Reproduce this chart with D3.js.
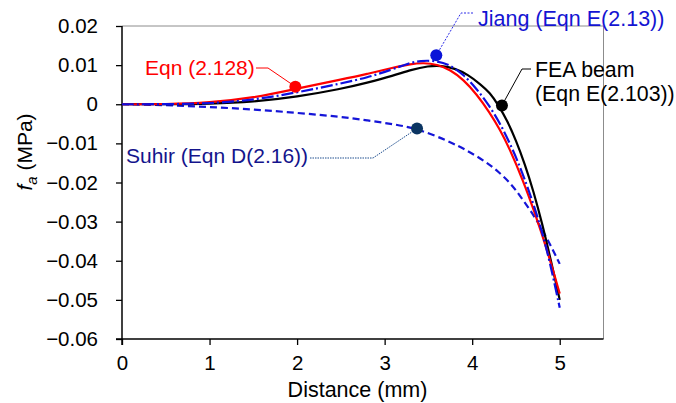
<!DOCTYPE html>
<html><head><meta charset="utf-8">
<script src="https://cdn.jsdelivr.net/npm/d3@7"></script>
<style>
body{margin:0;background:#fff;}
text{font-family:"Liberation Sans",Arial,sans-serif;}
</style></head>
<body><svg id="chart" width="676" height="403"></svg>
<script>
// ---- data ----
const xTicks = [0, 1, 2, 3, 4, 5];
const yTicks = [0.02, 0.01, 0, -0.01, -0.02, -0.03, -0.04, -0.05, -0.06];

const feaX = [0, 0.5, 1.0, 1.5, 2.0, 2.5, 2.8, 3.1, 3.3, 3.5, 3.65, 3.8, 3.95, 4.1, 4.2, 4.3, 4.4, 4.5, 4.6, 4.7, 4.8, 4.9, 5.0];
const feaY = [0, 0, 0.0001, 0.0006, 0.0019, 0.0039, 0.0055, 0.0073, 0.0088, 0.0098, 0.0099, 0.0092, 0.0076, 0.0050, 0.0030, -0.0002, -0.0042, -0.0092, -0.0152, -0.0222, -0.0305, -0.0400, -0.0500];

const eqnX = [0, 0.5, 1.0, 1.5, 2.0, 2.5, 2.8, 3.1, 3.3, 3.44, 3.6, 3.75, 3.9, 4.05, 4.2, 4.32, 4.42, 4.58, 4.72, 4.86, 5.0];
const eqnY = [0, 0, 0.0004, 0.0016, 0.0040, 0.0063, 0.0077, 0.0094, 0.0103, 0.0106, 0.0102, 0.0088, 0.0063, 0.0026, -0.0021, -0.0066, -0.0110, -0.0194, -0.0280, -0.0375, -0.0484];

const jiangX = [0, 0.5, 1.0, 1.5, 2.0, 2.5, 2.8, 3.1, 3.25, 3.41, 3.6, 3.75, 3.9, 4.05, 4.2, 4.32, 4.42, 4.52, 4.64, 4.78, 4.89, 5.0];
const jiangY = [0, 0, 0.0002, 0.0011, 0.0030, 0.0053, 0.0068, 0.0090, 0.0103, 0.0112, 0.0111, 0.0100, 0.0076, 0.0040, -0.0005, -0.0050, -0.0095, -0.0145, -0.0215, -0.0310, -0.0405, -0.0520];

const suhirX = [0, 0.5, 1.0, 1.5, 2.0, 2.5, 2.8, 3.1, 3.37, 3.73, 3.94, 4.15, 4.3, 4.45, 4.55, 4.7, 4.85, 5.0];
const suhirY = [0, -0.0002, -0.0007, -0.0013, -0.0022, -0.0032, -0.0041, -0.0051, -0.0062, -0.0094, -0.0118, -0.0146, -0.0172, -0.0205, -0.0235, -0.0282, -0.0340, -0.0408];

// annotation marker positions (data units)
const eqnMark = [1.98, 0.0045];
const jiangMark = [3.59, 0.0125];
const feaMark = [4.34, -0.0003];
const suhirMark = [3.37, -0.0062];

// ---- layout ----
const svg = d3.select("#chart");
const L = 122, R = 603.5, T = 26, B = 339;
const x = d3.scaleLinear().domain([0, 5.5]).range([L, R]);
const y = d3.scaleLinear().domain([-0.06, 0.02]).range([B, T]);

const fmtY = d => d === 0 ? "0" : (d < 0 ? "\u2212" + d3.format(".2f")(-d) : d3.format(".2f")(d));

// frame (top/right grey)
svg.append("line").attr("x1", L).attr("x2", R).attr("y1", T).attr("y2", T).attr("stroke", "#8c8c8c").attr("stroke-width", 1);
svg.append("line").attr("x1", R).attr("x2", R).attr("y1", T).attr("y2", B).attr("stroke", "#8c8c8c").attr("stroke-width", 1);

// axes
const yAxis = svg.append("g").attr("transform", `translate(${L},0)`)
  .call(d3.axisLeft(y).tickValues(yTicks).tickFormat(fmtY).tickSize(6).tickPadding(18));
const xAxis = svg.append("g").attr("transform", `translate(0,${B})`)
  .call(d3.axisBottom(x).tickValues(xTicks).tickFormat(d3.format("d")).tickSize(6).tickPadding(10));
[yAxis, xAxis].forEach(g => {
  g.select(".domain").remove();
  g.selectAll(".tick line").attr("stroke", "#000").attr("stroke-width", 1.3);
  g.selectAll("text").attr("fill", "#000").attr("font-size", 20.5).attr("font-family", "Liberation Sans, Arial, sans-serif");
});
svg.append("line").attr("x1", L).attr("x2", L).attr("y1", T).attr("y2", B + 6).attr("stroke", "#000").attr("stroke-width", 1.5);
svg.append("line").attr("x1", L - 6).attr("x2", R).attr("y1", B).attr("y2", B).attr("stroke", "#000").attr("stroke-width", 1.5);

// axis titles
svg.append("text").attr("x", 357.5).attr("y", 397).attr("text-anchor", "middle")
  .attr("font-size", 21.5).attr("fill", "#000").text("Distance (mm)");
const yt = svg.append("text").attr("transform", "translate(32,152) rotate(-90)").attr("text-anchor", "middle")
  .attr("font-size", 21).attr("fill", "#000");
yt.append("tspan").attr("font-style", "italic").text("f");
yt.append("tspan").attr("font-style", "italic").attr("font-size", 15).attr("dy", 5).text("a");
yt.append("tspan").attr("dy", -5).text(" (MPa)");

// curves
const line = d3.line().x(d => x(d[0])).y(d => y(d[1])).curve(d3.curveBasis);
const zip = (a, b) => a.map((v, i) => [v, b[i]]);
const plot = svg.append("g");
plot.append("path").datum(zip(suhirX, suhirY)).attr("d", line).attr("fill", "none")
  .attr("stroke", "#1515d8").attr("stroke-width", 2.2).attr("stroke-dasharray", "7,4");
plot.append("path").datum(zip(feaX, feaY)).attr("d", line).attr("fill", "none")
  .attr("stroke", "#000").attr("stroke-width", 2.2);
plot.append("path").datum(zip(eqnX, eqnY)).attr("d", line).attr("fill", "none")
  .attr("stroke", "#ff0000").attr("stroke-width", 2.2);
plot.append("path").datum(zip(jiangX, jiangY)).attr("d", line).attr("fill", "none")
  .attr("stroke", "#0f0fe0").attr("stroke-width", 2.2).attr("stroke-dasharray", "12,3,2,3");

// annotations
const ann = svg.append("g");
function leader(pts, color, dash, w) {
  ann.append("path").attr("d", d3.line()(pts)).attr("fill", "none").attr("stroke", color)
    .attr("stroke-width", w).attr("stroke-dasharray", dash);
}
// Eqn (2.128)
leader([[256, 68], [268, 68], [x(eqnMark[0]), y(eqnMark[1])]], "#ff0000", null, 1);
ann.append("circle").attr("cx", x(eqnMark[0])).attr("cy", y(eqnMark[1])).attr("r", 6).attr("fill", "#ff0000");
ann.append("text").attr("x", 145).attr("y", 75).attr("font-size", 21).attr("fill", "#ff0000").text("Eqn (2.128)");
// Jiang
leader([[473, 13], [461, 13], [x(jiangMark[0]), y(jiangMark[1])]], "#2a2ae8", "2,1.5", 1);
ann.append("circle").attr("cx", x(jiangMark[0])).attr("cy", y(jiangMark[1])).attr("r", 6).attr("fill", "#0a14d8");
ann.append("text").attr("x", 478).attr("y", 26).attr("font-size", 21.5).attr("fill", "#1414d2").text("Jiang (Eqn E(2.13))");
// FEA beam
leader([[531, 69], [522, 69], [x(feaMark[0]), y(feaMark[1])]], "#000", null, 1);
ann.append("circle").attr("cx", x(feaMark[0])).attr("cy", y(feaMark[1])).attr("r", 6).attr("fill", "#000");
ann.append("text").attr("x", 535).attr("y", 77).attr("font-size", 21.3).attr("fill", "#000").text("FEA beam");
ann.append("text").attr("x", 535).attr("y", 101).attr("font-size", 21.3).attr("fill", "#000").text("(Eqn E(2.103))");
// Suhir
leader([[310, 158], [373, 158], [x(suhirMark[0]), y(suhirMark[1])]], "#1f4f8f", "1.5,1", 1);
ann.append("circle").attr("cx", x(suhirMark[0])).attr("cy", y(suhirMark[1])).attr("r", 6).attr("fill", "#0b3562");
ann.append("text").attr("x", 126).attr("y", 163).attr("font-size", 21).attr("fill", "#14148c").text("Suhir (Eqn D(2.16))");
</script></body></html>
